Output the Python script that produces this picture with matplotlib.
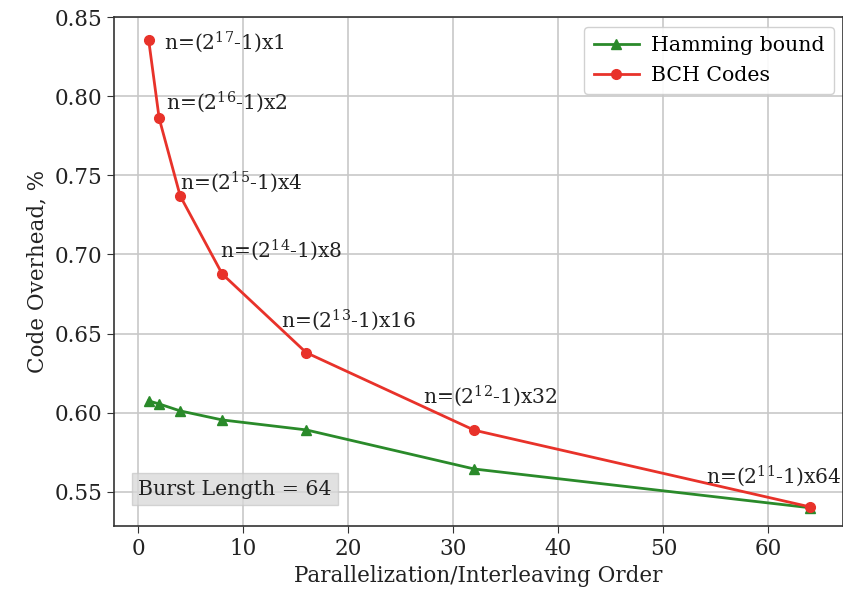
import matplotlib
matplotlib.use("Agg")
import matplotlib.pyplot as plt

# interleaving order
order = [1, 2, 4, 8, 16, 32, 64]
# code overhead, %
hamming = [0.6075, 0.6056, 0.6012, 0.5955, 0.5892, 0.5645, 0.5400]
bch = [0.8355, 0.7860, 0.7370, 0.6877, 0.6380, 0.5890, 0.5405]
labels = ["n=(2$^{17}$-1)x1", "n=(2$^{16}$-1)x2", "n=(2$^{15}$-1)x4",
          "n=(2$^{14}$-1)x8", "n=(2$^{13}$-1)x16", "n=(2$^{12}$-1)x32",
          "n=(2$^{11}$-1)x64"]
# label offsets from the BCH points, in pixels
offsets = [(15, -2), (7, 16), (0, 14), (-2, 24), (-25, 32), (-51, 34), (-104, 31)]

plt.rcParams['font.family'] = 'DejaVu Serif'
plt.rcParams['mathtext.fontset'] = 'dejavuserif'

fig = plt.figure(figsize=(8.43, 5.91), dpi=100)
ax = fig.add_axes([114 / 843, 65 / 591, 729 / 843, 509 / 591])

ax.plot(order, hamming, color='#2a8a2a', marker='^', lw=2, ms=7, label='Hamming bound')
ax.plot(order, bch, color='#e8322a', marker='o', lw=2, ms=7, label='BCH Codes')

for x, y, lab, off in zip(order, bch, labels, offsets):
    ax.annotate(lab, (x, y), xytext=off, textcoords='offset pixels',
                ha='left', va='center', fontsize=14.6, color='#222222')

ax.text(0.0, 0.5518, 'Burst Length = 64', fontsize=14.8, color='#222222', va='center',
        bbox=dict(boxstyle='square,pad=0.3', fc='#d8d8d8', ec='#c8c8c8', alpha=0.75))

ax.set_xlim(-2.3, 67.1)
ax.set_ylim(0.5285, 0.85)
ax.set_xticks([0, 10, 20, 30, 40, 50, 60])
ax.set_yticks([0.55, 0.60, 0.65, 0.70, 0.75, 0.80, 0.85])
ax.tick_params(labelsize=15.5, direction='out', length=5, colors='#333333', labelcolor='#222222')
ax.grid(True, color='#c8c8c8', lw=1.2)
ax.set_axisbelow(True)
for s in ax.spines.values():
    s.set_color('#333333')
    s.set_linewidth(1.2)

ax.set_xlabel('Parallelization/Interleaving Order', fontsize=15.5, color='#222222')
ax.set_ylabel('Code Overhead, %', fontsize=15.5, color='#222222')

ax.legend(loc='upper right', fontsize=14.8, framealpha=0.9, edgecolor='#cccccc',
          borderpad=0.45, handlelength=2.2, handletextpad=0.6, borderaxespad=0,
          bbox_to_anchor=(0.9877, 0.980))

fig.savefig('out.png', dpi=100)
